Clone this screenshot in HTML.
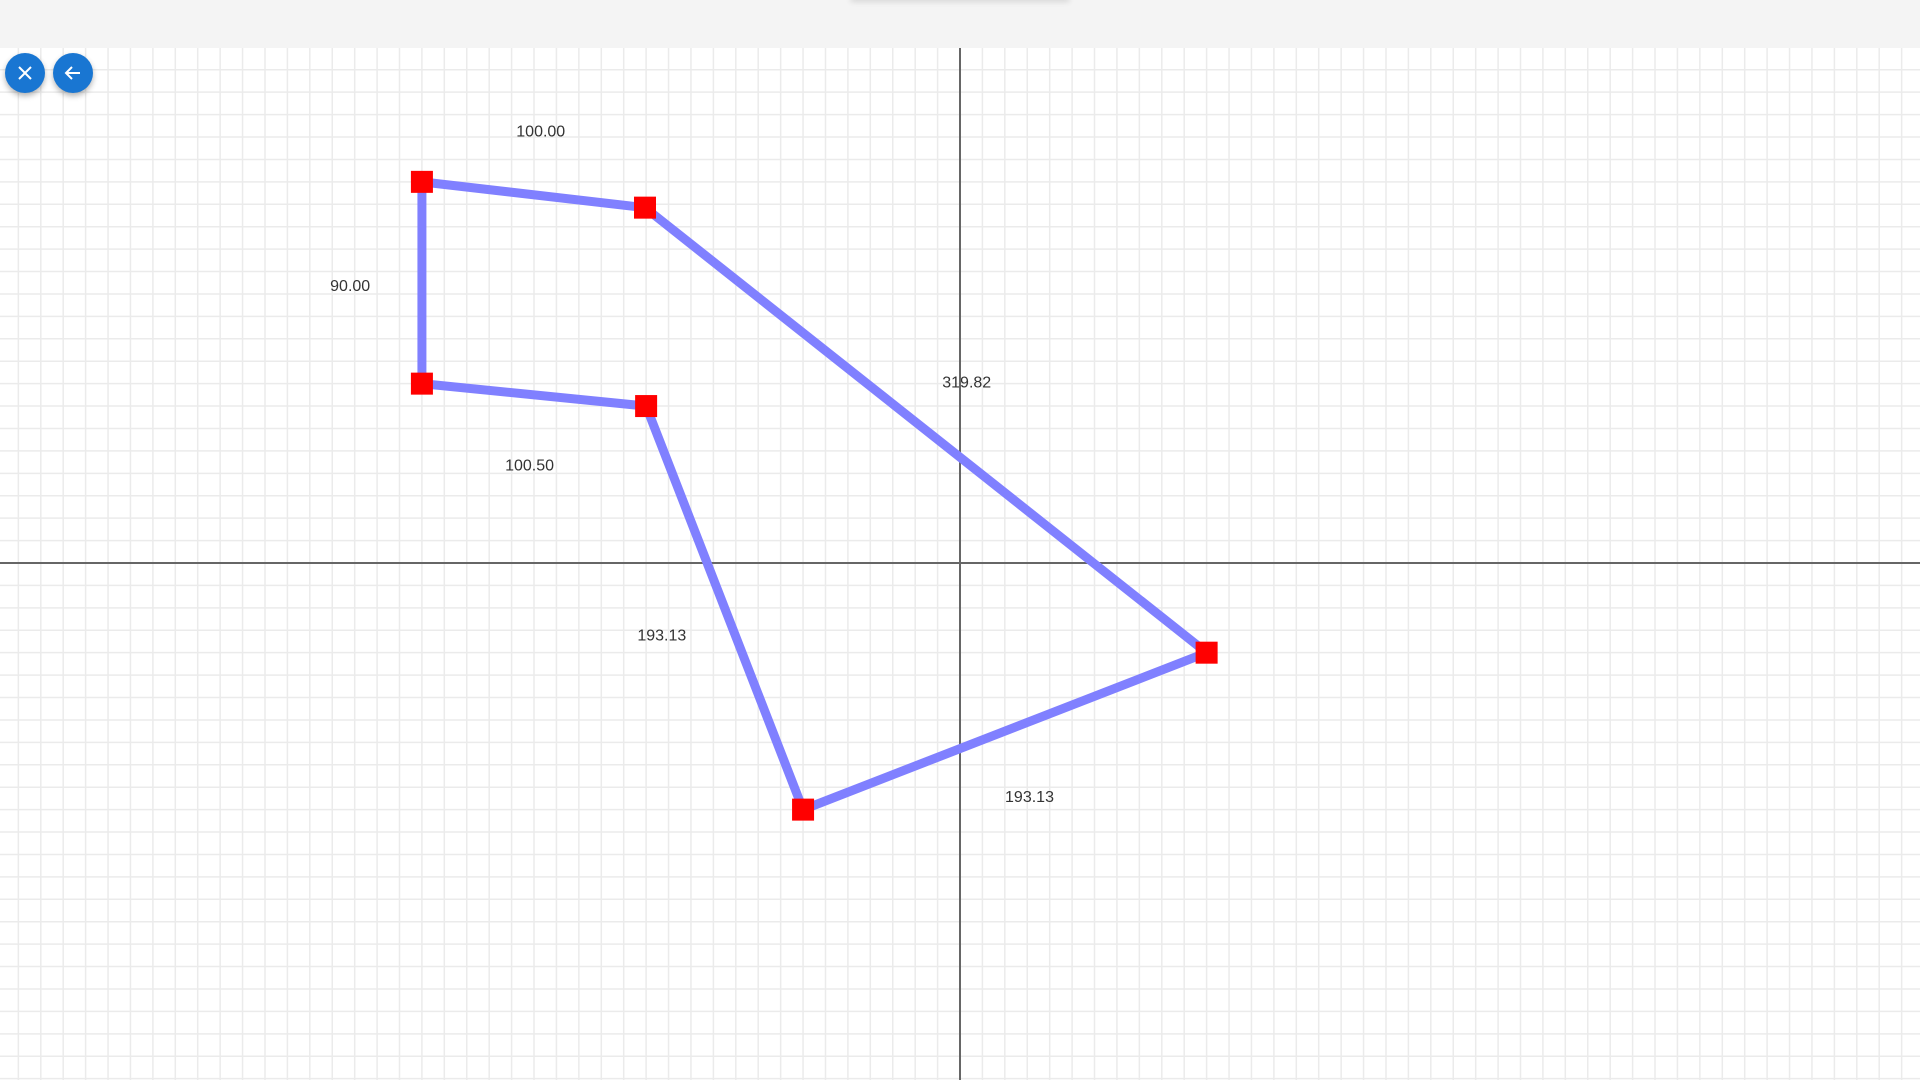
<!DOCTYPE html>
<html><head><meta charset="utf-8"><style>
html,body{margin:0;padding:0;width:1920px;height:1080px;overflow:hidden;background:#fff;font-family:"Liberation Sans",sans-serif}
#topbar{position:absolute;left:0;top:0;width:1920px;height:48px;background:#f4f4f4}
#topshadow{position:absolute;left:850px;top:-6px;width:220px;height:6px;border-radius:3px;box-shadow:0 2px 6px rgba(0,0,0,0.12)}
.btn{position:absolute;top:53px;width:40px;height:40px;border-radius:50%;background:#1976d2;box-shadow:0 3px 6px rgba(0,0,0,0.3);display:flex;align-items:center;justify-content:center}
svg{position:absolute;left:0;top:0}
</style></head><body>
<div id="topbar"><div id="topshadow"></div></div>
<svg id="chart" width="1920" height="1080"></svg>
<div class="btn" style="left:5px">
<svg width="40" height="40" style="position:static"><path d="M14 14L26 26M26 14L14 26" stroke="#fff" stroke-width="2"/></svg></div>
<div class="btn" style="left:53px">
<svg width="40" height="40" style="position:static"><path d="M27 20H13M19 14L13 20L19 26" stroke="#fff" stroke-width="2" fill="none"/></svg></div>
<script>
const xs=[-240,-140.5,110,-70,-140,-240];
const ys=[170,158.5,-40,-110,70,80];
const labels=["100.00","319.82","193.13","193.13","100.50","90.00"];
const labelX=[-187,3,31,-133,-192,-272];
const labelY=[193,81,-104,-32,44,124];
const OX=960,OY=563,S=2.242,TOP=48;
const sx=v=>OX+v*S, sy=v=>OY-v*S;
const NS="http://www.w3.org/2000/svg";
const svg=document.getElementById('chart');
function mk(t,a){const e=document.createElementNS(NS,t);for(const k in a)e.setAttribute(k,a[k]);svg.appendChild(e);return e;}
const step=10*S;
for(let x=OX%step;x<=1920;x+=step){const l=mk('line',{x1:x,y1:TOP,x2:x,y2:1080,stroke:'#ebebeb','stroke-width':1.5});

}
for(let y=OY-Math.floor((OY-TOP)/step)*step;y<=1080;y+=step){const l=mk('line',{x1:0,y1:y,x2:1920,y2:y,stroke:'#ebebeb','stroke-width':1.5});

}
for(let i=0;i<labels.length;i++){const t=mk('text',{x:sx(labelX[i]),y:sy(labelY[i])+6,'text-anchor':'middle','font-size':16,fill:'#333','font-family':'Liberation Sans, sans-serif'});t.textContent=labels[i];

}
const ax=mk('line',{x1:OX,y1:TOP,x2:OX,y2:1080,stroke:'#666','stroke-width':2});


const ay=mk('line',{x1:0,y1:OY,x2:1920,y2:OY,stroke:'#666','stroke-width':2});


const pts=xs.map((x,i)=>sx(x)+','+sy(ys[i])).join(' ');
const poly=mk('polygon',{points:pts,fill:'none',stroke:'#8080ff','stroke-width':9});


for(let i=0;i<xs.length;i++){const r=mk('rect',{x:sx(xs[i])-11,y:sy(ys[i])-11,width:22,height:22,fill:'#ff0000'});

}
</script>
</body></html>
